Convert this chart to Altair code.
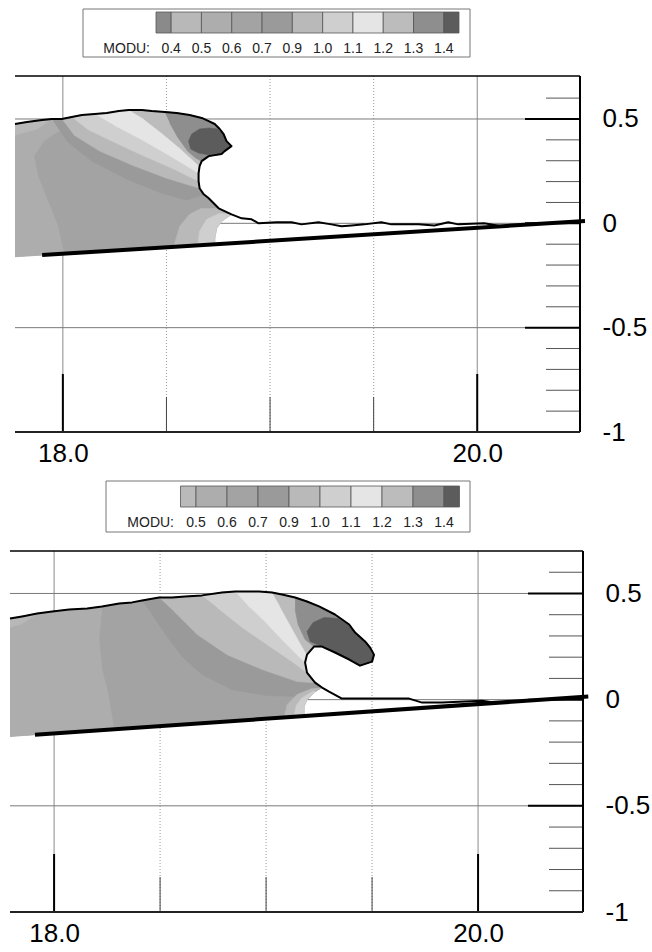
import altair as alt
import pandas as pd

FONT = "Liberation Sans"

# ------------------------------------------------------------------ colours (style)
PALETTE = {"lt04": "#8a8a8a", "lt05": "#bababa", "04": "#b8b8b8", "05": "#adadad",
           "06": "#a3a3a3", "07": "#9a9a9a", "09": "#b9b9b9", "10": "#cfcfcf",
           "11": "#e5e5e5", "12": "#bcbcbc", "13": "#8e8e8e", "14": "#5c5c5c"}

# ------------------------------------------------------------------ legends
TOP_LEG_LABELS = ["0.4", "0.5", "0.6", "0.7", "0.9", "1.0", "1.1", "1.2", "1.3", "1.4"]
TOP_LEG_CLASSES = ["lt04", "04", "05", "06", "07", "09", "10", "11", "12", "13", "14"]
BOT_LEG_LABELS = ["0.5", "0.6", "0.7", "0.9", "1.0", "1.1", "1.2", "1.3", "1.4"]
BOT_LEG_CLASSES = ["lt05", "05", "06", "07", "09", "10", "11", "12", "13", "14"]

# ------------------------------------------------------------------ axes
X_MAJOR = [18.0, 20.0]
X_MINOR = [18.5, 19.0, 19.5]
Y_LABELS = [0.5, 0.0, -0.5, -1.0]
Y_GRID = [0.5, 0.0, -0.5]
Y_MINOR = [0.6, 0.4, 0.3, 0.2, 0.1, -0.1, -0.2, -0.3, -0.4, -0.6, -0.7, -0.8, -0.9]

# ------------------------------------------------------------------ top panel (free surface)
TOP_SURF_X = [17.769, 17.827, 17.899, 17.947, 17.995, 18.043, 18.092, 18.154, 18.212, 18.270,
              18.318, 18.381, 18.429, 18.492, 18.549, 18.612, 18.670, 18.704, 18.733, 18.757,
              18.776, 18.790, 18.814, 18.781, 18.766, 18.704, 18.670, 18.660, 18.655, 18.655,
              18.660, 18.680, 18.704, 18.752, 18.814, 18.863, 18.911, 18.945, 19.031, 19.104,
              19.152, 19.234, 19.296, 19.345, 19.393, 19.455, 19.537, 19.586, 19.716, 19.793,
              19.860, 19.908, 20.034, 20.116]
TOP_SURF_Y = [0.476, 0.486, 0.495, 0.500, 0.500, 0.510, 0.519, 0.524, 0.529, 0.538,
              0.543, 0.543, 0.538, 0.534, 0.529, 0.519, 0.505, 0.490, 0.476, 0.452,
              0.428, 0.394, 0.370, 0.346, 0.332, 0.322, 0.298, 0.274, 0.240, 0.202,
              0.168, 0.139, 0.120, 0.072, 0.043, 0.024, 0.019, 0.000, 0.005, 0.005,
              -0.005, 0.005, -0.005, -0.014, -0.010, -0.005, 0.005, -0.005, -0.005, -0.010,
              0.005, -0.005, 0.000, -0.014]
TOP_BEACH_X = [17.90, 20.52]
TOP_BEACH_Y = [-0.152, 0.011]

# (class, surface start idx, surface end idx, extra x, extra y)
TOP_BANDS = [
    ("06", 0, 34, [18.766, 18.742, 18.733, 18.733, 17.769],
                  [0.010, -0.024, -0.072, -0.101, -0.160]),
    ("05", 0, 5, [17.995, 17.908, 17.860, 17.880, 17.928, 17.976, 18.005, 17.769],
                 [0.452, 0.394, 0.322, 0.226, 0.106, -0.014, -0.145, -0.160]),
    ("04", 0, 3, [17.875, 17.769], [0.452, 0.423]),
    ("07", 3, 31, [18.598, 18.477, 18.308, 18.140, 18.019], [0.111, 0.144, 0.212, 0.298, 0.394]),
    ("09", 4, 30, [18.501, 18.333, 18.178, 18.053], [0.216, 0.279, 0.346, 0.423]),
    ("10", 5, 29, [18.535, 18.381, 18.236, 18.116], [0.260, 0.327, 0.394, 0.452]),
    ("11", 7, 28, [18.583, 18.487, 18.366, 18.246], [0.284, 0.341, 0.409, 0.471]),
    ("12", 10, 27, [18.622, 18.564, 18.477, 18.390], [0.308, 0.361, 0.433, 0.500]),
    ("13", 13, 26, [18.641, 18.602, 18.554, 18.516], [0.313, 0.346, 0.413, 0.481]),
    ("14", 20, 24, [18.708, 18.655, 18.617, 18.607, 18.622, 18.660, 18.708, 18.747],
                   [0.327, 0.337, 0.356, 0.394, 0.428, 0.452, 0.457, 0.452]),
    ("09", 33, 34, [18.766, 18.742, 18.733, 18.733, 18.535, 18.564, 18.612, 18.670],
                   [0.010, -0.024, -0.072, -0.101, -0.111, -0.014, 0.043, 0.072]),
    ("10", 34, 34, [18.766, 18.742, 18.733, 18.733, 18.651, 18.660, 18.694, 18.757],
                   [0.010, -0.024, -0.072, -0.101, -0.106, -0.038, 0.019, 0.048]),
]

# ------------------------------------------------------------------ bottom panel
BOT_SURF_X = [17.792, 17.849, 17.920, 17.991, 18.071, 18.156, 18.226, 18.307, 18.368, 18.415,
              18.495, 18.557, 18.618, 18.698, 18.792, 18.854, 18.967, 19.028, 19.075, 19.137,
              19.193, 19.250, 19.325, 19.392, 19.420, 19.467, 19.491, 19.509, 19.500, 19.443,
              19.392, 19.325, 19.264, 19.226, 19.193, 19.184, 19.193, 19.231, 19.264, 19.297,
              19.358, 19.500, 19.675, 19.736, 19.830, 20.019, 20.080]
BOT_SURF_Y = [0.382, 0.392, 0.406, 0.415, 0.425, 0.429, 0.439, 0.453, 0.458, 0.467,
              0.481, 0.481, 0.486, 0.491, 0.505, 0.509, 0.509, 0.505, 0.495, 0.481,
              0.462, 0.439, 0.401, 0.354, 0.316, 0.274, 0.245, 0.212, 0.179, 0.160,
              0.189, 0.222, 0.250, 0.250, 0.212, 0.175, 0.127, 0.080, 0.057, 0.038,
              0.005, 0.005, 0.005, -0.014, -0.014, -0.005, -0.015]
BOT_BEACH_X = [17.91, 20.52]
BOT_BEACH_Y = [-0.165, 0.015]

BOT_BANDS = [
    ("06", 0, 38, [19.231, 19.193, 19.179, 19.179, 17.792],
                  [0.038, 0.000, -0.033, -0.076, -0.173]),
    ("05", 0, 6, [18.212, 18.226, 18.255, 18.283, 17.792],
                 [0.283, 0.142, 0.024, -0.140, -0.173]),
    ("04", 0, 2, [17.849, 17.792], [0.358, 0.340]),
    ("07", 9, 38, [19.231, 19.184, 19.005, 18.840, 18.698, 18.604, 18.533, 18.462],
                  [0.038, 0.014, 0.019, 0.047, 0.118, 0.203, 0.297, 0.401]),
    ("09", 10, 37, [19.146, 18.981, 18.816, 18.675, 18.566], [0.085, 0.142, 0.212, 0.307, 0.415]),
    ("10", 13, 36, [19.123, 19.005, 18.887, 18.769], [0.179, 0.259, 0.340, 0.434]),
    ("11", 15, 35, [19.146, 19.075, 18.995, 18.910], [0.212, 0.283, 0.368, 0.448]),
    ("12", 17, 34, [19.160, 19.113, 19.066], [0.269, 0.354, 0.439]),
    ("13", 19, 33, [19.184, 19.151, 19.137], [0.283, 0.354, 0.425]),
    ("14", 24, 31, [19.274, 19.208, 19.193, 19.222, 19.274, 19.340, 19.387],
                   [0.245, 0.274, 0.321, 0.363, 0.387, 0.382, 0.354]),
    ("09", 38, 38, [19.231, 19.193, 19.179, 19.179, 19.085, 19.099, 19.146, 19.217],
                   [0.038, 0.000, -0.033, -0.076, -0.085, -0.024, 0.024, 0.052]),
    ("10", None, None, [19.231, 19.193, 19.179, 19.179, 19.132, 19.142, 19.170, 19.226],
                       [0.038, 0.000, -0.033, -0.076, -0.080, -0.028, 0.009, 0.042]),
]


def poly_df(sx, sy, start, stop, ex, ey):
    xs = (sx[start:stop + 1] if start is not None else []) + ex
    ys = (sy[start:stop + 1] if start is not None else []) + ey
    return pd.DataFrame({"x": xs, "y": ys, "i": list(range(len(xs)))})


def make_legend(labels, classes, xrange, W, H, frame, bar, label_y, modu_x):
    n = len(classes)
    lo = [0.5] + [float(k) for k in range(1, n)]
    hi = [float(k) for k in range(1, n)] + [n - 0.5]
    boxes = pd.DataFrame({"lo": lo, "hi": hi, "cls": classes})
    labs = pd.DataFrame({"k": list(range(1, n)), "label": labels})
    one = pd.DataFrame({"t": ["MODU:"]})
    lscale = alt.Scale(domain=[0.5, n - 0.5], range=xrange, nice=False, zero=False)
    fscale = alt.Scale(domain=list(PALETTE.keys()), range=list(PALETTE.values()))
    fr = alt.Chart(one).mark_rect(fill="white", stroke="#777777", strokeWidth=1).encode(
        x=alt.value(frame[0]), x2=alt.value(frame[1]),
        y=alt.value(0), y2=alt.value(frame[2]))
    bx = alt.Chart(boxes).mark_rect(stroke="#555555", strokeWidth=0.8).encode(
        x=alt.X("lo:Q", scale=lscale, axis=None), x2="hi:Q",
        y=alt.value(bar[0]), y2=alt.value(bar[1]),
        fill=alt.Fill("cls:N", scale=fscale, legend=None))
    tx = alt.Chart(labs).mark_text(font=FONT, fontSize=14, color="#222222",
                                   baseline="middle", align="center").encode(
        x=alt.X("k:Q", scale=lscale, axis=None), y=alt.value(label_y), text="label:N")
    md = alt.Chart(one).mark_text(font=FONT, fontSize=14, color="#222222",
                                  baseline="middle", align="right").encode(
        x=alt.value(modu_x), y=alt.value(label_y), text="t:N")
    return alt.layer(fr, bx, tx, md).properties(width=W, height=H)


def make_plot(sx, sy, bands, bx_, by_, xdom, xrange, ydom, W, H, L):
    xs = alt.Scale(domain=xdom, range=xrange, nice=False, zero=False)
    ys = alt.Scale(domain=ydom, nice=False, zero=False)
    ax = alt.Axis(values=X_MAJOR, format=".1f", ticks=False, domain=False, grid=False,
                  labelFont=FONT, labelFontSize=26, labelColor="black", labelPadding=8,
                  title=None)
    ay = alt.Axis(orient="right", values=Y_LABELS, labelExpr="'' + datum.value", ticks=False,
                  domain=False, grid=False, labelFont=FONT, labelFontSize=26,
                  labelColor="black", labelPadding=22, title=None)

    def X(f):
        return alt.X(f, scale=xs, axis=ax)

    def Y(f):
        return alt.Y(f, scale=ys, axis=ay)

    layers = []
    # grid lines
    layers.append(alt.Chart(pd.DataFrame({"v": X_MINOR})).mark_rule(
        color="#9a9a9a", strokeWidth=1, strokeDash=[1, 2]).encode(x=X("v:Q")))
    layers.append(alt.Chart(pd.DataFrame({"v": X_MAJOR})).mark_rule(
        color="#8a8a8a", strokeWidth=1).encode(x=X("v:Q")))
    layers.append(alt.Chart(pd.DataFrame({"v": Y_GRID})).mark_rule(
        color="#7a7a7a", strokeWidth=1).encode(y=Y("v:Q"), x=alt.value(L), x2=alt.value(W)))
    # water contour polygons
    for cls, s, e, ex, ey in bands:
        col = PALETTE[cls]
        layers.append(alt.Chart(poly_df(sx, sy, s, e, ex, ey)).mark_line(
            fill=col, stroke=col, strokeWidth=0.6).encode(
            x=X("x:Q"), y=Y("y:Q"), order="i:Q"))
    # free surface outline
    outline = pd.DataFrame({"x": sx, "y": sy, "i": list(range(len(sx)))})
    layers.append(alt.Chart(outline).mark_line(color="black", strokeWidth=2,
                                               strokeJoin="round").encode(
        x=X("x:Q"), y=Y("y:Q"), order="i:Q"))
    # beach
    layers.append(alt.Chart(pd.DataFrame({"x": bx_, "y": by_})).mark_line(
        color="black", strokeWidth=4).encode(x=X("x:Q"), y=Y("y:Q")))
    # ticks
    layers.append(alt.Chart(pd.DataFrame({"v": X_MINOR})).mark_rule(
        color="#444444", strokeWidth=1).encode(x=X("v:Q"), y=alt.value(H - 35), y2=alt.value(H)))
    layers.append(alt.Chart(pd.DataFrame({"v": X_MAJOR})).mark_rule(
        color="black", strokeWidth=2).encode(x=X("v:Q"), y=alt.value(H - 58), y2=alt.value(H)))
    layers.append(alt.Chart(pd.DataFrame({"v": Y_MINOR})).mark_rule(
        color="#555555", strokeWidth=1).encode(y=Y("v:Q"), x=alt.value(W - 34), x2=alt.value(W)))
    layers.append(alt.Chart(pd.DataFrame({"v": Y_LABELS})).mark_rule(
        color="black", strokeWidth=2).encode(y=Y("v:Q"), x=alt.value(W - 55), x2=alt.value(W)))
    # frame (top, right, bottom)
    fr = pd.DataFrame({"v": [0]})
    layers.append(alt.Chart(fr).mark_rule(color="black", strokeWidth=1.5).encode(
        x=alt.value(L), x2=alt.value(W), y=alt.value(0)))
    layers.append(alt.Chart(fr).mark_rule(color="black", strokeWidth=2).encode(
        x=alt.value(W), y=alt.value(0), y2=alt.value(H)))
    layers.append(alt.Chart(fr).mark_rule(color="#222222", strokeWidth=2).encode(
        x=alt.value(L), x2=alt.value(W), y=alt.value(H)))
    return alt.layer(*layers).properties(width=W, height=H)


TW, TH = 570, 356
BW, BH = 573, 361

top_leg = make_legend(TOP_LEG_LABELS, TOP_LEG_CLASSES, [146, 449], TW, 52,
                      (73, 460, 48), (3, 24), 40, 140)
top_plot = make_plot(TOP_SURF_X, TOP_SURF_Y, TOP_BANDS, TOP_BEACH_X, TOP_BEACH_Y,
                     [17.769, 20.496], [5, TW], [-1.0, 0.706], TW, TH, 5)
bot_leg = make_legend(BOT_LEG_LABELS, BOT_LEG_CLASSES, [170.5, 449.5], BW, 55,
                      (96, 460, 51), (5, 26), 42, 164)
bot_plot = make_plot(BOT_SURF_X, BOT_SURF_Y, BOT_BANDS, BOT_BEACH_X, BOT_BEACH_Y,
                     [17.792, 20.495], [0, BW], [-1.0, 0.70], BW, BH, 0)

chart = alt.vconcat(top_leg, top_plot, bot_leg, bot_plot, spacing=14).properties(
    padding={"left": 8, "top": 8, "right": 0, "bottom": 0},
    background="white",
).configure_view(stroke=None)

chart.save("out.html", embed_options={"renderer": "svg", "actions": False})
